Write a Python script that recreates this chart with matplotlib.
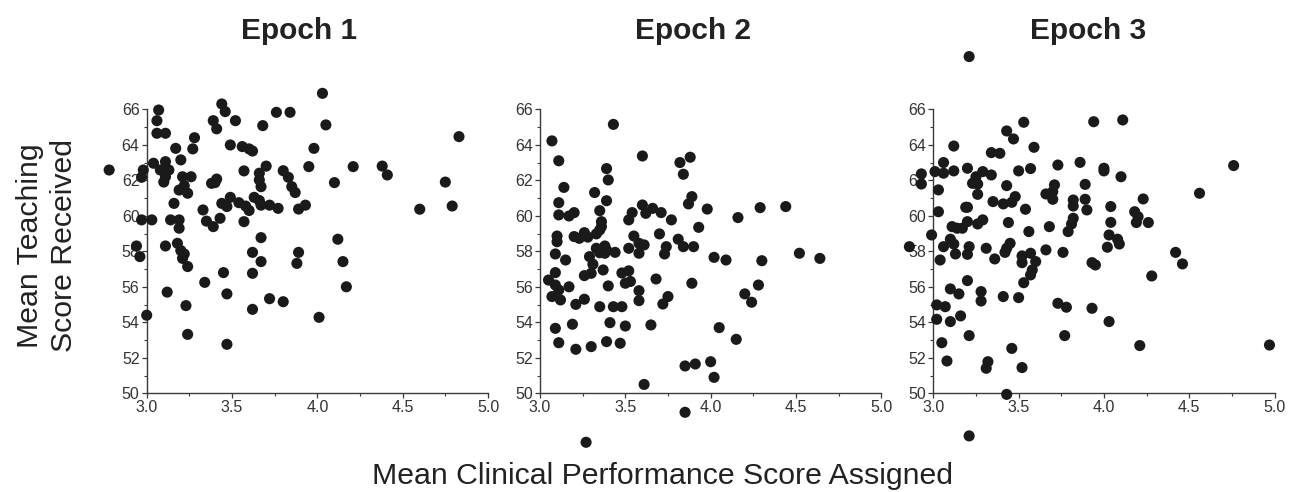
import numpy as np
import matplotlib
matplotlib.use('Agg')
import matplotlib.pyplot as plt
from matplotlib.ticker import MultipleLocator

# data: mean clinical performance score (x) vs mean teaching score (y)
epoch1_x = [2.78, 3.07, 3.06, 3.06, 3.11, 3.04, 3.11, 2.98, 2.97, 3.08, 3.13, 3.11, 3.10, 3.17,
            3.20, 3.21, 3.26, 3.19, 3.24, 3.22, 3.16, 2.97, 3.03, 3.14, 3.19, 3.19, 2.94, 2.96,
            3.11, 3.18, 3.20, 3.22, 3.21, 3.24, 3.12, 3.00, 3.23, 3.24, 3.28, 3.27, 3.39, 3.41,
            3.44, 3.46, 3.52, 3.49, 3.56, 3.60, 3.62, 3.57, 3.41, 3.38, 3.40, 3.33, 3.35, 3.39,
            3.43, 3.44, 3.49, 3.47, 3.54, 3.58, 3.60, 3.57, 3.34, 3.45, 3.47, 3.47, 3.66, 3.66,
            3.67, 3.63, 3.66, 3.67, 3.70, 3.68, 3.76, 3.84, 3.72, 3.77, 3.67, 3.62, 3.67, 3.62,
            3.62, 3.72, 3.80, 3.80, 3.83, 3.85, 3.87, 3.89, 3.93, 3.95, 3.98, 4.03, 4.05, 4.10,
            3.89, 3.88, 4.12, 4.15, 4.17, 4.01, 4.21, 4.38, 4.41, 4.60, 4.75, 4.79, 4.83]
epoch1_y = [62.58, 65.96, 65.36, 64.65, 64.65, 62.96, 63.05, 62.58, 62.17, 62.58, 62.58, 62.20,
            61.90, 63.80, 63.15, 62.20, 62.20, 61.45, 61.27, 61.70, 60.70, 59.77, 59.77, 59.77,
            59.77, 59.30, 58.30, 57.70, 58.30, 58.45, 58.04, 57.85, 57.60, 57.14, 55.70, 54.40,
            54.94, 53.32, 64.40, 63.77, 65.36, 64.90, 66.30, 65.87, 65.36, 63.99, 63.90, 63.77,
            63.65, 62.53, 62.07, 61.83, 61.87, 60.33, 59.70, 59.39, 59.86, 60.70, 61.04, 60.52,
            60.74, 60.55, 60.30, 59.67, 56.25, 56.80, 55.60, 52.76, 62.40, 62.02, 61.64, 61.04,
            60.86, 60.60, 62.80, 65.08, 65.83, 65.83, 60.60, 60.42, 58.77, 57.94, 57.42, 56.76,
            54.73, 55.33, 55.16, 62.54, 62.17, 61.64, 61.31, 60.38, 60.60, 62.77, 63.80, 66.90,
            65.12, 61.87, 57.94, 57.32, 58.68, 57.42, 56.00, 54.28, 62.77, 62.80, 62.30, 60.37,
            61.90, 60.55, 64.46]

epoch2_x = [3.07, 3.11, 3.43, 3.14, 3.11, 3.11, 3.17, 3.20, 3.10, 3.10, 3.09, 3.15, 3.09, 3.05,
            3.09, 3.11, 3.07, 3.12, 3.17, 3.09, 3.11, 3.21, 3.19, 3.21, 3.26, 3.20, 3.23, 3.26,
            3.28, 3.26, 3.30, 3.31, 3.29, 3.33, 3.35, 3.38, 3.39, 3.38, 3.44, 3.33, 3.35, 3.36,
            3.36, 3.35, 3.32, 3.39, 3.40, 3.39, 3.37, 3.40, 3.35, 3.43, 3.48, 3.41, 3.39, 3.47,
            3.50, 3.30, 3.48, 3.52, 3.50, 3.53, 3.52, 3.54, 3.52, 3.55, 3.58, 3.61, 3.58, 3.58,
            3.58, 3.60, 3.60, 3.62, 3.66, 3.71, 3.77, 3.70, 3.74, 3.73, 3.68, 3.75, 3.72, 3.65,
            3.61, 3.81, 3.84, 3.90, 3.82, 3.88, 3.84, 3.89, 3.87, 3.98, 3.93, 3.89, 3.85, 3.91,
            4.00, 4.02, 4.02, 4.09, 4.05, 4.15, 4.16, 4.20, 4.24, 4.28, 4.30, 4.29, 4.44, 4.52,
            4.64, 3.85, 3.27]
epoch2_y = [64.22, 63.10, 65.15, 61.60, 60.74, 60.05, 59.99, 60.18, 58.86, 58.54, 57.85, 57.51,
            56.80, 56.38, 56.10, 55.82, 55.45, 55.26, 56.00, 53.66, 52.85, 52.48, 53.89, 55.01,
            55.30, 58.83, 58.73, 59.05, 58.80, 56.63, 56.76, 57.27, 57.70, 58.17, 57.92, 58.30,
            58.07, 57.89, 57.94, 58.98, 59.20, 59.39, 59.67, 60.29, 61.31, 60.85, 62.02, 62.66,
            56.95, 56.05, 54.88, 54.88, 54.88, 53.98, 52.91, 52.82, 53.79, 52.63, 56.78, 56.90,
            56.20, 56.30, 58.17, 60.18, 59.77, 58.86, 58.45, 58.36, 57.89, 55.78, 55.22, 63.37,
            60.61, 60.14, 60.42, 60.18, 59.77, 58.98, 58.26, 57.85, 56.44, 55.45, 55.03, 53.85,
            50.50, 58.68, 58.26, 58.26, 63.00, 63.30, 62.34, 61.08, 60.67, 60.38, 59.35, 56.20,
            51.54, 51.65, 51.78, 50.90, 57.66, 57.51, 53.70, 53.04, 59.90, 55.60, 55.13, 56.10,
            57.47, 60.46, 60.52, 57.89, 57.60, 48.93, 47.24]

epoch3_x = [3.21, 3.21, 2.86, 2.93, 2.93, 2.99, 3.01, 3.06, 3.06, 3.12, 3.12, 3.03, 3.03, 3.06,
            3.04, 3.11, 3.10, 3.12, 3.13, 3.20, 3.14, 3.17, 3.20, 3.20, 3.19, 3.21, 3.20, 3.23,
            3.25, 3.26, 3.26, 3.29, 3.34, 3.26, 3.29, 3.31, 3.20, 3.10, 3.15, 3.02, 3.07, 3.02,
            3.10, 3.16, 3.05, 3.08, 3.21, 3.28, 3.28, 3.32, 3.31, 3.46, 3.52, 3.43, 3.41, 3.50,
            3.34, 3.39, 3.43, 3.47, 3.53, 3.59, 3.50, 3.57, 3.43, 3.35, 3.41, 3.46, 3.48, 3.54,
            3.44, 3.56, 3.36, 3.42, 3.43, 3.45, 3.52, 3.52, 3.57, 3.60, 3.58, 3.57, 3.53, 3.66,
            3.71, 3.70, 3.70, 3.73, 3.68, 3.66, 3.76, 3.73, 3.78, 3.77, 3.82, 3.82, 3.82, 3.81,
            3.79, 3.86, 3.89, 3.89, 3.90, 3.93, 3.95, 3.93, 3.94, 4.00, 4.00, 4.10, 4.11, 4.04,
            4.04, 4.03, 4.02, 4.08, 4.09, 4.03, 4.18, 4.20, 4.19, 4.23, 4.26, 4.28, 4.21, 4.42,
            4.46, 4.56, 4.76, 4.97]
epoch3_y = [68.97, 47.60, 58.26, 62.36, 61.79, 58.92, 62.49, 63.00, 62.40, 62.53, 63.93, 61.46,
            60.23, 58.26, 57.51, 59.39, 58.68, 58.41, 57.85, 62.68, 59.30, 59.30, 59.67, 60.48,
            60.48, 58.26, 57.83, 61.83, 62.20, 61.79, 61.21, 62.49, 62.30, 59.54, 59.77, 58.17,
            56.35, 55.88, 55.60, 54.98, 54.88, 54.17, 54.04, 54.36, 52.85, 51.82, 53.25, 55.73,
            55.20, 51.78, 51.41, 52.53, 51.45, 49.94, 55.45, 55.39, 63.56, 63.52, 64.78, 64.33,
            65.27, 63.86, 62.53, 62.66, 61.70, 60.80, 60.67, 60.76, 61.08, 60.37, 59.62, 59.11,
            57.57, 57.94, 58.17, 58.45, 57.74, 57.36, 57.89, 57.42, 56.95, 56.67, 56.23, 61.23,
            61.74, 61.36, 60.93, 62.86, 59.39, 58.08, 57.94, 55.07, 54.85, 53.25, 60.89, 60.55,
            59.86, 59.54, 59.11, 63.01, 61.77, 60.93, 60.33, 57.36, 57.23, 54.79, 65.30, 62.68,
            62.53, 62.20, 65.40, 60.52, 59.63, 58.92, 58.23, 58.68, 58.41, 54.04, 60.23, 59.95,
            59.62, 60.95, 59.62, 56.61, 52.69, 57.94, 57.29, 61.27, 62.83, 52.72]

titles = ['Epoch 1', 'Epoch 2', 'Epoch 3']

plt.rcParams.update({
    'font.family': 'Liberation Sans',
})

dot_color = '#1a1a1a'
axis_color = '#3a3a3a'
W, H = 1297, 492


def setup_axis(ax):
    ax.set_xlim(3.0, 5.0)
    ax.set_ylim(50, 66)
    for side in ['top', 'right']:
        ax.spines[side].set_visible(False)
    for side in ['left', 'bottom']:
        ax.spines[side].set_color(axis_color)
        ax.spines[side].set_linewidth(1.0)
    ax.xaxis.set_major_locator(MultipleLocator(0.5))
    ax.xaxis.set_minor_locator(MultipleLocator(0.25))
    ax.yaxis.set_major_locator(MultipleLocator(2))
    ax.yaxis.set_minor_locator(MultipleLocator(1))
    ax.xaxis.set_major_formatter(matplotlib.ticker.FormatStrFormatter('%.1f'))
    ax.tick_params(which='major', direction='out', length=3.6, width=0.9, color=axis_color,
                   labelsize=11.5, labelcolor='#333333', pad=1.5)
    ax.tick_params(which='minor', direction='out', length=2.2, width=0.8, color=axis_color)
    ax.patch.set_alpha(0)


fig = plt.figure(figsize=(W / 100, H / 100), dpi=100)

panel_left = [146.7, 540.0, 933.3]
panel_w = 341.3
panel_top, panel_bot = 109.3, 393.3
title_cx = [299, 693, 1088]

data = [(epoch1_x, epoch1_y), (epoch2_x, epoch2_y), (epoch3_x, epoch3_y)]

for i, (xs, ys) in enumerate(data):
    ax = fig.add_axes([panel_left[i] / W, 1 - panel_bot / H, panel_w / W, (panel_bot - panel_top) / H])
    setup_axis(ax)
    ax.scatter(xs, ys, s=64, color=dot_color, edgecolors='none', clip_on=False, zorder=3)
    fig.text(title_cx[i] / W, 1 - 39 / H, titles[i], ha='center', va='baseline',
             fontsize=21.5, fontweight='bold', color='#222222')

fig.text(663 / W, 1 - 484 / H, 'Mean Clinical Performance Score Assigned', ha='center', va='baseline',
         fontsize=21.8, color='#222222')
fig.text(47 / W, 1 - 246 / H, 'Mean Teaching\nScore Received', ha='center', va='center',
         rotation=90, fontsize=21.8, color='#222222', multialignment='center', linespacing=1.25)

fig.savefig('out.png', dpi=100)
